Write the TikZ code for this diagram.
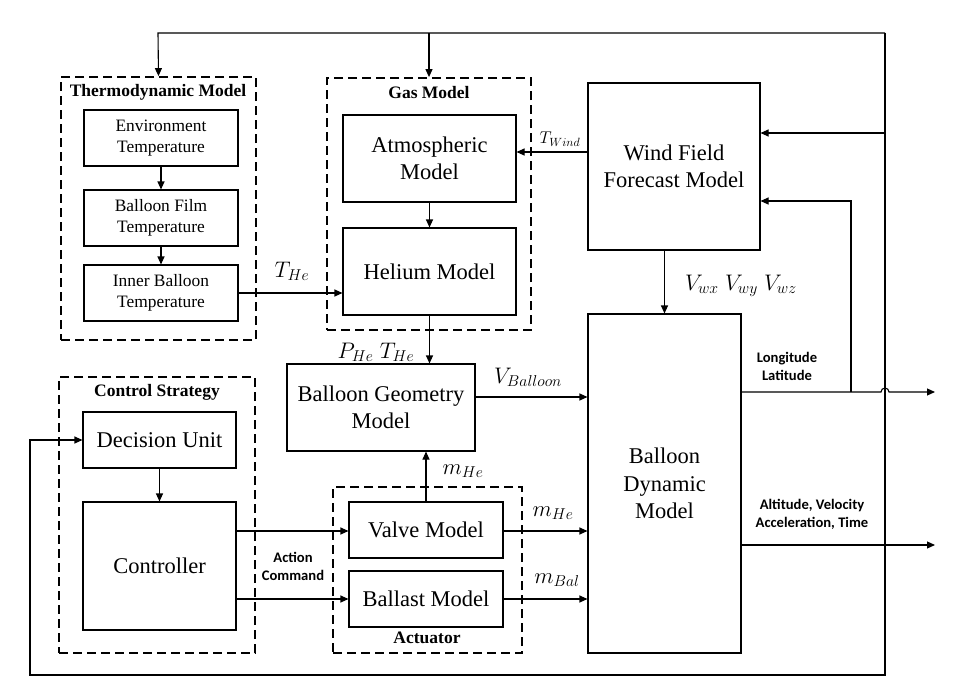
\RequirePackage{fix-cm}
\documentclass[tikz,border=0pt]{standalone}
\usepackage{fontspec}
\setmainfont{Liberation Serif}
\newfontfamily\calfont{Carlito}
\usetikzlibrary{arrows.meta,calc}
\begin{document}
\begin{tikzpicture}[x=1pt,y=-1pt,
  box/.style={draw, line width=1.1pt, align=center, inner sep=0pt, font=\fontsize{22.5}{27.5}\selectfont},
  sbox/.style={box, font=\fontsize{17.4}{21}\selectfont},
  grp/.style={draw, line width=1.8pt, dash pattern=on 9pt off 5pt, inner sep=0pt},
  ttl/.style={font=\fontsize{17.5}{21}\selectfont\bfseries, inner sep=0pt},
  arr/.style={line width=1.1pt, -{Triangle[length=8pt,width=7pt]}},
  ln/.style={line width=1.1pt},
  ml/.style={font=\fontsize{22.5}{26}\selectfont, inner sep=0pt},
  cl/.style={font=\calfont\bfseries\fontsize{14.6}{18}\selectfont, align=center, inner sep=0pt}]
\useasboundingbox (0,0) rectangle (962,696);

% groups
\node[grp, minimum width=195, minimum height=263] (thermo) at (158.5,208.5) {};
\node[grp, minimum width=204, minimum height=252] (gas) at (429,204) {};
\node[grp, minimum width=196, minimum height=276] (ctrl) at (157,515) {};
\node[grp, minimum width=189, minimum height=166] (act) at (427.5,570) {};

\node[ttl] (tthermo) at (158,92) {Thermodynamic Model};
\node[ttl] (tgas) at (429,93) {Gas Model};
\node[ttl] (tctrl) at (157,392) {Control Strategy};
\node[ttl] (tact) at (427,638) {Actuator};

% boxes
\node[sbox, minimum width=154, minimum height=56] (env) at (161,138) {Environment\\Temperature};
\node[sbox, minimum width=154, minimum height=56] (film) at (161,218) {Balloon Film\\Temperature};
\node[sbox, minimum width=154, minimum height=56] (inner) at (161,293) {Inner Balloon\\Temperature};
\node[box, minimum width=173, minimum height=87] (atm) at (429.5,158.5) {Atmospheric\\Model};
\node[box, minimum width=173, minimum height=87] (helium) at (429.5,271.5) {Helium Model};
\node[box, minimum width=172, minimum height=167] (wind) at (674,166.5) {Wind Field\\Forecast Model};
\node[box, minimum width=153, minimum height=339] (dyn) at (664.5,483.5) {Balloon\\Dynamic\\Model};
\node[box, minimum width=188, minimum height=87] (geom) at (381,407.5) {Balloon Geometry\\Model};
\node[box, minimum width=153, minimum height=56] (dec) at (159.5,440) {Decision Unit};
\node[box, minimum width=153, minimum height=128] (contr) at (159.5,566) {Controller};
\node[box, minimum width=154, minimum height=56] (valve) at (426,530) {Valve Model};
\node[box, minimum width=154, minimum height=56] (ballast) at (426,599) {Ballast Model};

% feedback loop
\coordinate (tl) at (158,33);
\coordinate (tg) at (429,33);
\coordinate (tr) at (885,33);
\coordinate (br) at (885,675);
\coordinate (bl) at (30,675);
\coordinate (w1) at (885,133);
\coordinate (w2) at (851,392);
\coordinate (w2t) at (851,201);
\coordinate (o1) at (935,392);
\coordinate (o2) at (935,545);

\draw[arr] (tr) -- (tl) -- (thermo.north);
\draw[arr] (tg) -- (gas.north);
\draw[arr] (tr) -- (br) -- (bl) |- (dec.west);
\draw[arr] (w1) -- (w1 -| wind.east);
\draw[arr] (w2) -- (w2t) -- (w2t -| wind.east);

% outputs
\draw[arr] (dyn.east |- o1) -- (881,392) arc[start angle=180,end angle=0,radius=4pt] -- (o1);
\draw[arr] (dyn.east |- o2) -- (o2);

% internal connectors
\draw[arr] (env) -- (film);
\draw[arr] (film) -- (inner);
\draw[arr] (inner.east) -- (inner.east -| helium.west);
\draw[arr] (atm) -- (helium);
\draw[arr] (wind.west |- 0,152) -- (atm.east |- 0,152);
\draw[arr] (dyn.north |- wind.south) -- (dyn.north);
\draw[arr] (helium.south) -- (helium.south |- geom.north);
\draw[arr] (geom.east |- 0,397) -- (dyn.west |- 0,397);
\draw[arr] (valve.north) -- (valve.north |- geom.south);
\draw[arr] (dec) -- (contr);
\draw[arr] (contr.east |- 0,531) -- (valve.west |- 0,531);
\draw[arr] (contr.east |- 0,599) -- (ballast.west);
\draw[arr] (valve.east |- 0,531) -- (dyn.west |- 0,531);
\draw[arr] (ballast.east) -- (ballast.east -| dyn.west);

% labels
\node[ml] (lthe) at (292,271) {$T_{He}$};
\node[ml, font=\fontsize{17}{20}\selectfont] (ltw) at (560,139) {$T_{Wind}$};
\node[ml] (lvw) at (741,286) {$V_{wx}\;V_{wy}\;V_{wz}$};
\node[ml] (lpt) at (376,352) {$P_{He}\;T_{He}$};
\node[ml] (lvb) at (528,377) {$V_{Balloon}$};
\node[ml] (lmh1) at (463,471) {$m_{He}$};
\node[ml] (lmh2) at (553,513) {$m_{He}$};
\node[ml] (lmb) at (557,580) {$m_{Bal}$};
\node[cl] (llon) at (787,366) {Longitude\\Latitude};
\node[cl] (lalt) at (812,514) {Altitude, Velocity\\Acceleration, Time};
\node[cl] (lac) at (293,566) {Action\\Command};
\end{tikzpicture}
\end{document}
